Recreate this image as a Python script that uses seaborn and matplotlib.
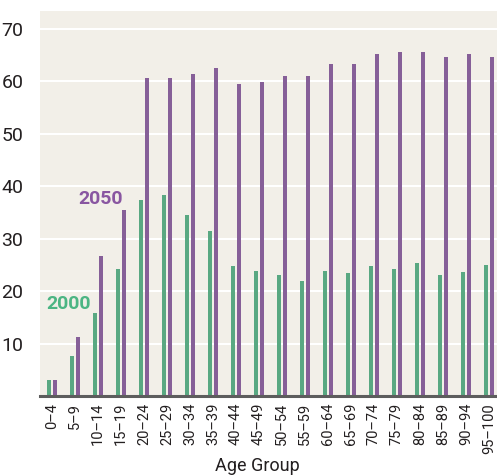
import matplotlib
matplotlib.use('Agg')
import matplotlib.pyplot as plt
import numpy as np
import pandas as pd
import seaborn as sns

age_groups = ['0–4', '5–9', '10–14', '15–19', '20–24', '25–29', '30–34', '35–39',
              '40–44', '45–49', '50–54', '55–59', '60–64', '65–69', '70–74', '75–79',
              '80–84', '85–89', '90–94', '95–100']
values_2000 = [3.0, 7.7, 15.8, 24.3, 37.3, 38.4, 34.6, 31.4, 24.7, 23.8,
               23.0, 21.9, 23.8, 23.4, 24.7, 24.3, 25.3, 23.0, 23.6, 24.9]
values_2050 = [3.0, 11.3, 26.7, 35.4, 60.6, 60.6, 61.4, 62.5, 59.5, 59.9,
               61.0, 61.0, 63.3, 63.3, 65.2, 65.6, 65.6, 64.6, 65.2, 64.6]
years = ['2000', '2050']
y_ticks = [10, 20, 30, 40, 50, 60, 70]

green = '#4cb583'
purple = '#8956a1'
bg = '#f2efe8'
text_col = '#231f20'

df = pd.DataFrame({
    'age': age_groups * 2,
    'value': values_2000 + values_2050,
    'year': [years[0]] * len(age_groups) + [years[1]] * len(age_groups),
})

sns.set_theme(style='white')
plt.rcParams['font.family'] = ['Roboto', 'DejaVu Sans']

fig = plt.figure(figsize=(4.97, 4.76), dpi=100)
ax = fig.add_axes([40 / 497, 80 / 476, 1 - 40 / 497, 385 / 476])
ax.set_facecolor(bg)

sns.barplot(data=df, x='age', y='value', hue='year', order=age_groups,
            palette={'2000': green, '2050': purple}, width=0.52, gap=0.35,
            dodge=True, legend=False, ax=ax, errorbar=None, linewidth=0)

ax.set_ylim(0, 73.4)
ax.set_xlim(-0.52, 19.35)
ax.set_yticks(y_ticks)
ax.set_yticklabels([str(t) for t in y_ticks], fontsize=14, color=text_col)
ax.yaxis.grid(True, color='white', linewidth=1.5)
ax.set_axisbelow(True)
ax.tick_params(axis='x', labelrotation=90, labelsize=10.5, colors=text_col, length=0, pad=5)
ax.tick_params(axis='y', length=0, pad=12)
ax.set_xlabel('Age Group', fontsize=13, color=text_col)
ax.xaxis.set_label_coords(0.475, -0.182)
ax.xaxis.label.set_va('center')
ax.set_ylabel('')

for side in ['top', 'right', 'left']:
    ax.spines[side].set_visible(False)
ax.spines['bottom'].set_color('#5d5d5d')
ax.spines['bottom'].set_linewidth(2.2)

ax.text(2.13, 37.5, '2050', color=purple, fontsize=14, fontweight='bold',
        ha='center', va='center')
ax.text(0.72, 17.5, '2000', color=green, fontsize=14, fontweight='bold',
        ha='center', va='center')

fig.savefig('out.png', dpi=100, facecolor='white')
